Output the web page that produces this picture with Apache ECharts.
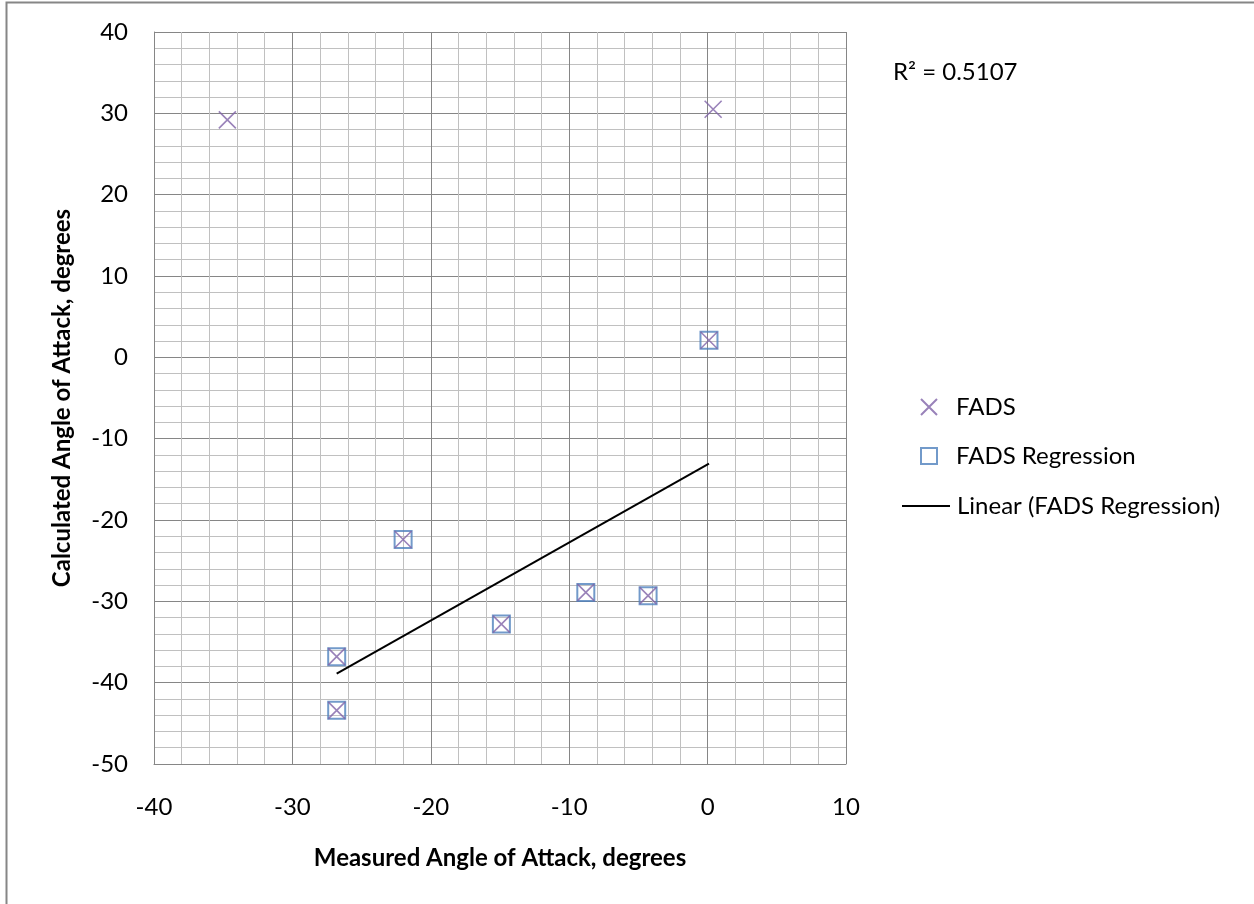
<!DOCTYPE html>
<html>
<head>
<meta charset="utf-8">
<script src="https://cdn.jsdelivr.net/npm/echarts@6/dist/echarts.min.js"></script>
<style>html,body{margin:0;padding:0;background:#fff;}#c{width:1254px;height:904px;}</style>
</head>
<body>
<div id="c"></div>
<script>
// Data
const fadsX = [-34.7, 0.4, 0.1, -22.0, -26.8, -26.8, -14.9, -8.8, -4.3];
const fadsY = [29.2, 30.5, 2.1, -22.4, -36.8, -43.4, -32.8, -28.9, -29.3];
const regX = [0.1, -22.0, -26.8, -26.8, -14.9, -8.8, -4.3];
const regY = [2.1, -22.4, -36.8, -43.4, -32.8, -28.9, -29.3];
const rSquaredLabel = 'R² = 0.5107';
const xTitle = 'Measured Angle of Attack, degrees';
const yTitle = 'Calculated Angle of Attack, degrees';

// Linear trendline (least squares) over the regression series
function fit(xs, ys) {
  const n = xs.length;
  const mx = xs.reduce((a, b) => a + b, 0) / n;
  const my = ys.reduce((a, b) => a + b, 0) / n;
  let sxy = 0, sxx = 0;
  for (let i = 0; i < n; i++) { sxy += (xs[i] - mx) * (ys[i] - my); sxx += (xs[i] - mx) ** 2; }
  const b = sxy / sxx, a = my - b * mx;
  const x0 = Math.min(...xs), x1 = Math.max(...xs);
  return [[x0, a + b * x0], [x1, a + b * x1]];
}
const trend = fit(regX, regY);

const FONT = 'Lato, "Open Sans", sans-serif';
const FS = 24;
const chart = echarts.init(document.getElementById('c'));
const crossPath = 'path://M0,0L10,10M10,0L0,10';

chart.setOption({
  animation: false,
  backgroundColor: '#fff',
  textStyle: { fontFamily: FONT },
  grid: { left: 154, top: 32, right: 408, bottom: 140, show: false },
  xAxis: {
    type: 'value', min: -40, max: 10, interval: 10,
    name: xTitle, nameLocation: 'middle', nameGap: 82,
    nameTextStyle: { fontFamily: FONT, fontSize: FS, fontWeight: 'bold', color: '#000' },
    axisLine: { show: true, onZero: false, lineStyle: { color: '#868686', width: 1 } },
    axisTick: { show: false },
    axisLabel: { fontFamily: FONT, fontSize: FS, color: '#000', margin: 31 },
    splitLine: { show: true, lineStyle: { color: '#868686', width: 1 } },
    minorTick: { show: false, splitNumber: 5 },
    minorSplitLine: { show: true, lineStyle: { color: '#c0c0c0', width: 1 } }
  },
  yAxis: {
    type: 'value', min: -50, max: 40, interval: 10,
    name: yTitle, nameLocation: 'middle', nameGap: 80, nameRotate: 90,
    nameTextStyle: { fontFamily: FONT, fontSize: FS, fontWeight: 'bold', color: '#000' },
    axisLine: { show: true, onZero: false, lineStyle: { color: '#868686', width: 1 } },
    axisTick: { show: false },
    axisLabel: { fontFamily: FONT, fontSize: FS, color: '#000', margin: 26 },
    splitLine: { show: true, lineStyle: { color: '#868686', width: 1 } },
    minorTick: { show: false, splitNumber: 5 },
    minorSplitLine: { show: true, lineStyle: { color: '#c0c0c0', width: 1 } }
  },
  legend: [
    { left: 920, top: 395, padding: 0, itemWidth: 16, itemHeight: 16, data: ['FADS'],
      textStyle: { fontFamily: FONT, fontSize: FS, color: '#000', padding: [0, 0, 0, 14] } },
    { left: 920, top: 444, padding: 0, itemWidth: 16, itemHeight: 16, data: ['FADS Regression'],
      textStyle: { fontFamily: FONT, fontSize: FS, color: '#000', padding: [0, 0, 0, 14] } },
    { left: 902, top: 494, padding: 0, itemWidth: 48, itemHeight: 2,
      data: [{ name: 'Linear (FADS Regression)', icon: 'rect' }],
      textStyle: { fontFamily: FONT, fontSize: FS, color: '#000', padding: [0, 0, 0, 2] } }
  ],
  graphic: [
    { type: 'rect', shape: { x: 6.5, y: 2.5, width: 1300, height: 1000 },
      style: { fill: 'none', stroke: '#868686', lineWidth: 2 }, silent: true },
    { type: 'text', left: 893, top: 60,
      style: { text: rSquaredLabel, font: FS + 'px ' + FONT, fill: '#000' } }
  ],
  series: [
    {
      name: 'FADS Regression', type: 'scatter',
      data: regX.map((x, i) => [x, regY[i]]),
      symbol: 'rect', symbolSize: 17,
      itemStyle: { color: 'rgba(0,0,0,0)', borderColor: '#4f81bd', borderWidth: 2 },
      z: 2
    },
    {
      name: 'FADS', type: 'scatter',
      data: fadsX.map((x, i) => [x, fadsY[i]]),
      symbol: crossPath, symbolSize: 17,
      itemStyle: { color: 'rgba(0,0,0,0)', borderColor: '#7f63a8', borderWidth: 1.6 },
      z: 3
    },
    {
      name: 'Linear (FADS Regression)', type: 'line',
      data: trend, showSymbol: false, symbol: 'none',
      lineStyle: { color: '#000', width: 2 },
      itemStyle: { color: '#000' },
      z: 4
    }
  ]
});
</script>
</body>
</html>
